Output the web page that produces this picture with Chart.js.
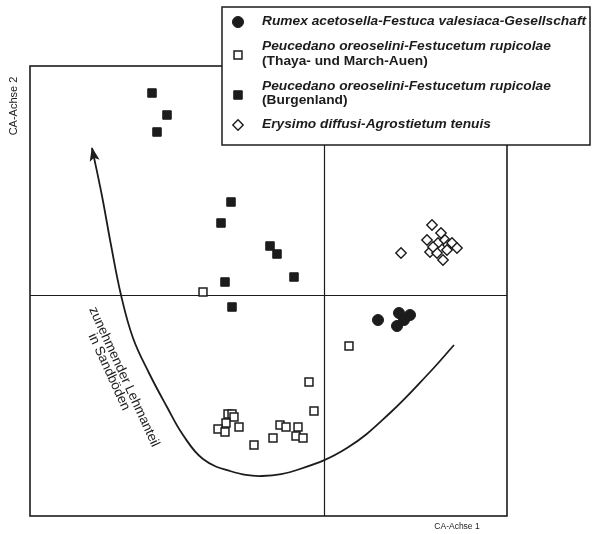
<!DOCTYPE html>
<html>
<head>
<meta charset="utf-8">
<script src="https://cdn.jsdelivr.net/npm/chart.js@4/dist/chart.umd.min.js"></script>
<style>
  html, body { margin: 0; padding: 0; background: #fff; }
  #wrap { width: 592px; height: 534px; position: relative; }
</style>
</head>
<body>
<div id="wrap"><canvas id="ca" width="592" height="534"></canvas></div>
<script>
// CA scores (axis 1 = x, axis 2 = y) of the relevés, by community
const rumexAcetosella = [
  { x: 0.54, y: -0.25 }, { x: 0.75, y: -0.18 }, { x: 0.86, y: -0.20 },
  { x: 0.80, y: -0.25 }, { x: 0.73, y: -0.31 }
];
const peucedanoThaya = [
  { x: -1.21, y: 0.03 }, { x: 0.25, y: -0.51 }, { x: -0.15, y: -0.87 },
  { x: -0.10, y: -1.16 }, { x: -0.96, y: -1.19 }, { x: -0.92, y: -1.19 },
  { x: -0.90, y: -1.22 }, { x: -0.98, y: -1.28 }, { x: -1.06, y: -1.34 },
  { x: -0.99, y: -1.37 }, { x: -0.85, y: -1.32 }, { x: -0.70, y: -1.50 },
  { x: -0.51, y: -1.43 }, { x: -0.44, y: -1.30 }, { x: -0.38, y: -1.32 },
  { x: -0.26, y: -1.32 }, { x: -0.28, y: -1.41 }, { x: -0.21, y: -1.43 }
];
const peucedanoBurgenland = [
  { x: -1.72, y: 2.02 }, { x: -1.57, y: 1.80 }, { x: -1.67, y: 1.63 },
  { x: -0.93, y: 0.93 }, { x: -1.03, y: 0.72 }, { x: -0.54, y: 0.49 },
  { x: -0.47, y: 0.41 }, { x: -0.30, y: 0.18 }, { x: -0.99, y: 0.13 },
  { x: -0.92, y: -0.12 }
];
const erysimoDiffusi = [
  { x: 1.08, y: 0.70 }, { x: 0.77, y: 0.42 }, { x: 1.17, y: 0.62 },
  { x: 1.03, y: 0.55 }, { x: 1.06, y: 0.43 }, { x: 1.14, y: 0.52 },
  { x: 1.21, y: 0.55 }, { x: 1.24, y: 0.50 }, { x: 1.28, y: 0.52 },
  { x: 1.33, y: 0.47 }, { x: 1.19, y: 0.35 }, { x: 1.13, y: 0.42 },
  { x: 1.23, y: 0.45 }, { x: 1.09, y: 0.48 }
];
// gradient arrow: increasing loam content in sandy soils (ends at the arrow tip)
const gradientCurve = [
  { x: 1.30, y: -0.50 }, { x: 1.06, y: -0.77 }, { x: 0.66, y: -1.18 },
  { x: 0.23, y: -1.53 }, { x: -0.24, y: -1.74 }, { x: -0.62, y: -1.81 },
  { x: -0.94, y: -1.76 }, { x: -1.21, y: -1.64 }, { x: -1.41, y: -1.40 },
  { x: -1.57, y: -1.12 }, { x: -1.75, y: -0.78 }, { x: -1.91, y: -0.43 },
  { x: -2.03, y: 0.00 }, { x: -2.13, y: 0.50 }, { x: -2.22, y: 0.99 },
  { x: -2.32, y: 1.47 }
];
const gradientLabel = ['zunehmender Lehmanteil', 'in Sandböden'];
const gradientLabelAnchors = [{ x: -2.00, y: -0.82 }, { x: -2.15, y: -0.77 }];

const axisRange = { xMin: -2.94, xMax: 1.83, yMin: -2.21, yMax: 2.29 };
const axisTitles = ['CA-Achse 1', 'CA-Achse 2'];

const legendNames = [
  ['Rumex acetosella-Festuca valesiaca-Gesellschaft'],
  ['Peucedano oreoselini-Festucetum rupicolae', '(Thaya- und March-Auen)'],
  ['Peucedano oreoselini-Festucetum rupicolae', '(Burgenland)'],
  ['Erysimo diffusi-Agrostietum tenuis']
];

const INK = '#1c1c1c';
const FONT = '"Liberation Sans", Arial, sans-serif';

const markerStyles = [
  { pointStyle: 'circle', radius: 5.5, fill: INK, border: 1 },
  { pointStyle: 'rect', radius: 5.6, fill: '#ffffff', border: 1.5 },
  { pointStyle: 'rect', radius: 6.0, fill: INK, border: 1 },
  { pointStyle: 'rectRot', radius: 5.2, fill: '#ffffff', border: 1.4 }
];
const seriesData = [rumexAcetosella, peucedanoThaya, peucedanoBurgenland, erysimoDiffusi];

const decor = {
  id: 'decor',
  beforeDatasetsDraw(chart) {
    const { ctx, chartArea: a, scales: { x, y } } = chart;
    const x0 = Math.round(x.getPixelForValue(0)) + 0.5;
    const y0 = Math.round(y.getPixelForValue(0)) + 0.5;
    ctx.save();
    ctx.strokeStyle = INK;
    ctx.lineWidth = 1.2;
    ctx.beginPath();
    ctx.moveTo(x0, a.top); ctx.lineTo(x0, a.bottom);
    ctx.moveTo(a.left, y0); ctx.lineTo(a.right, y0);
    ctx.stroke();
    ctx.restore();
  },
  afterDatasetsDraw(chart) {
    const { ctx, chartArea: a, scales: { x, y } } = chart;
    ctx.save();

    // plot frame
    ctx.strokeStyle = INK;
    ctx.lineWidth = 1.6;
    ctx.strokeRect(a.left, a.top, a.right - a.left, a.bottom - a.top);

    // arrow head at the end of the gradient curve
    const pts = chart.getDatasetMeta(0).data;
    const tip = pts[pts.length - 1];
    let dx = tip.x - (tip.cp1x ?? pts[pts.length - 2].x);
    let dy = tip.y - (tip.cp1y ?? pts[pts.length - 2].y);
    const len = Math.hypot(dx, dy) || 1;
    dx /= len; dy /= len;
    const headLen = 13, headHalf = 5;
    const bx = tip.x - dx * headLen, by = tip.y - dy * headLen;
    ctx.fillStyle = INK;
    ctx.beginPath();
    ctx.moveTo(tip.x + dx, tip.y + dy);
    ctx.lineTo(bx - dy * headHalf, by + dx * headHalf);
    ctx.lineTo(bx + dx * 3, by + dy * 3);
    ctx.lineTo(bx + dy * headHalf, by - dx * headHalf);
    ctx.closePath();
    ctx.fill();

    // gradient label, written along the curve
    ctx.font = '13.5px ' + FONT;
    ctx.textAlign = 'center';
    ctx.textBaseline = 'middle';
    gradientLabel.forEach((t, i) => {
      const p = gradientLabelAnchors[i];
      ctx.save();
      ctx.translate(x.getPixelForValue(p.x), y.getPixelForValue(p.y));
      ctx.rotate(65.4 * Math.PI / 180);
      ctx.fillText(t, 0, 0);
      ctx.restore();
    });

    // axis titles
    ctx.font = '8.5px ' + FONT;
    ctx.textAlign = 'center';
    ctx.fillText(axisTitles[0], 457, 527);
    ctx.save();
    ctx.translate(14, 106);
    ctx.rotate(-Math.PI / 2);
    ctx.font = '11px ' + FONT;
    ctx.fillText(axisTitles[1], 0, 0);
    ctx.restore();

    // legend box
    const L = { left: 222, top: 7, right: 590, bottom: 145 };
    ctx.fillStyle = '#ffffff';
    ctx.fillRect(L.left, L.top, L.right - L.left, L.bottom - L.top);
    ctx.strokeStyle = INK;
    ctx.lineWidth = 1.5;
    ctx.strokeRect(L.left, L.top, L.right - L.left, L.bottom - L.top);

    const rows = [[22], [47, 62], [87, 101], [125]];
    const markerY = [22, 55, 95, 125];
    ctx.textAlign = 'left';
    ctx.textBaseline = 'middle';
    legendNames.forEach((lines, i) => {
      const m = markerStyles[i];
      ctx.fillStyle = m.fill;
      ctx.strokeStyle = INK;
      ctx.lineWidth = m.border;
      Chart.helpers.drawPoint(ctx, { pointStyle: m.pointStyle, radius: m.radius, rotation: 0, borderWidth: m.border }, 238, markerY[i]);
      ctx.fillStyle = INK;
      lines.forEach((t, j) => {
        ctx.save();
        ctx.translate(262, rows[i][j]);
        ctx.scale(1.1, 1);
        ctx.font = (j === 0 ? 'italic bold ' : 'bold ') + '12.5px ' + FONT;
        ctx.fillText(t, 0, 0);
        ctx.restore();
      });
    });

    ctx.restore();
  }
};

const datasets = [
  {
    type: 'line',
    data: gradientCurve,
    borderColor: INK,
    borderWidth: 1.8,
    tension: 0.4,
    pointRadius: 0,
    fill: false
  },
  ...seriesData.map((d, i) => ({
    type: 'scatter',
    data: d,
    pointStyle: markerStyles[i].pointStyle,
    pointRadius: markerStyles[i].radius,
    backgroundColor: markerStyles[i].fill,
    borderColor: INK,
    borderWidth: markerStyles[i].border
  }))
];

new Chart(document.getElementById('ca'), {
  type: 'scatter',
  data: { datasets },
  options: {
    responsive: false,
    animation: false,
    events: [],
    layout: { padding: { left: 30, top: 66, right: 85, bottom: 18 } },
    scales: {
      x: { type: 'linear', min: axisRange.xMin, max: axisRange.xMax, display: false },
      y: { type: 'linear', min: axisRange.yMin, max: axisRange.yMax, display: false }
    },
    plugins: { legend: { display: false }, tooltip: { enabled: false } }
  },
  plugins: [decor]
});
</script>
</body>
</html>
